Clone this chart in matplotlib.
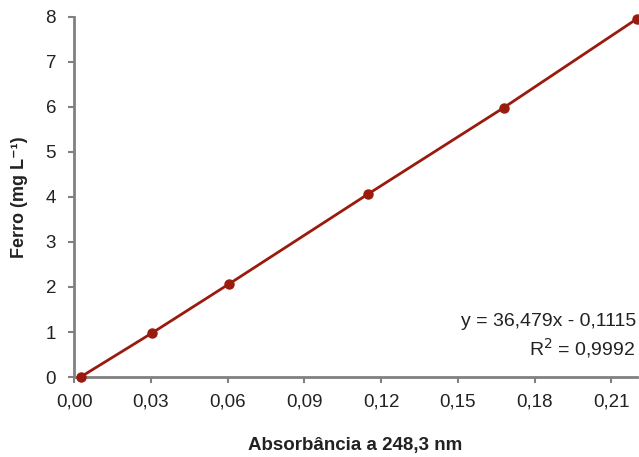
import matplotlib.pyplot as plt

plt.rcParams['font.family'] = ['Liberation Sans', 'DejaVu Sans']

# data
absorbancia = [0.0025, 0.0305, 0.0606, 0.1150, 0.1678, 0.2200]
ferro = [0.0, 0.98, 2.07, 4.07, 5.98, 7.96]

x_ticks = [0.00, 0.03, 0.06, 0.09, 0.12, 0.15, 0.18, 0.21]
x_labels = ['0,00', '0,03', '0,06', '0,09', '0,12', '0,15', '0,18', '0,21']
y_ticks = [0, 1, 2, 3, 4, 5, 6, 7, 8]

line_color = '#9a1a0e'
axis_color = '#808080'
text_color = '#222222'

fig = plt.figure(figsize=(6.39, 4.57), dpi=100)
ax = fig.add_axes([0.116, 0.175, 0.881, 0.788])

ax.plot(absorbancia, ferro, color=line_color, linewidth=2,
        marker='o', markersize=6.5, clip_on=False, zorder=3)

ax.set_xlim(0, 0.22)
ax.set_ylim(0, 8)
ax.set_xticks(x_ticks)
ax.set_xticklabels(x_labels)
ax.set_yticks(y_ticks)

for s in ['top', 'right']:
    ax.spines[s].set_visible(False)
for s in ['left', 'bottom']:
    ax.spines[s].set_color(axis_color)
    ax.spines[s].set_linewidth(2)

ax.tick_params(axis='both', direction='out', length=4, width=1.5,
               color=axis_color, labelsize=13.5, labelcolor=text_color)
ax.tick_params(axis='x', pad=8)
ax.tick_params(axis='y', pad=9)

ax.set_xlabel('Absorbância a 248,3 nm', fontsize=13.5, fontweight='bold',
              labelpad=19, color=text_color)
ax.set_ylabel('Ferro (mg L⁻¹)', fontsize=13, fontweight='bold',
              labelpad=13, color=text_color)

ax.text(0.2195, 1.24, 'y = 36,479x - 0,1115', ha='right', va='center',
        fontsize=14, color=text_color)
ax.text(0.2195, 0.64, 'R$^2$ = 0,9992', ha='right', va='center',
        fontsize=14, color=text_color)

fig.savefig('out.png', dpi=100)
